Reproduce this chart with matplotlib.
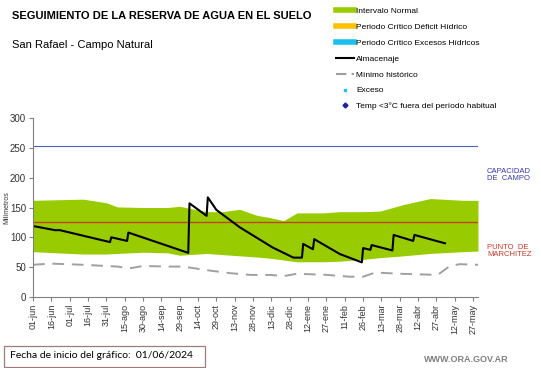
#!/usr/bin/env python3

import matplotlib
matplotlib.use('Agg')
import matplotlib.pyplot as plt
import numpy as np
from matplotlib.lines import Line2D
from matplotlib.patches import Rectangle

plt.rcParams['font.family'] = ['Liberation Sans', 'DejaVu Sans']

# Days since 01/06/2024
tick_days = list(range(0, 361, 15))
tick_labels = ['01-jun', '16-jun', '01-jul', '16-jul', '31-jul', '15-ago', '30-ago',
               '14-sep', '29-sep', '14-oct', '29-oct', '13-nov', '28-nov', '13-dic',
               '28-dic', '12-ene', '27-ene', '11-feb', '26-feb', '13-mar', '28-mar',
               '12-abr', '27-abr', '12-may', '27-may']

# Intervalo normal (banda verde)
band_days = [0, 20, 41, 60, 69, 90, 110, 120, 142, 155, 169, 183, 194, 205, 216,
             237, 251, 270, 284, 303, 325, 352, 364]
band_upper = [162, 163, 164, 158, 151, 150, 150, 152, 143, 143, 147, 137, 133, 128,
              141, 141, 143, 143, 144, 155, 165, 162, 162]
band_lower = [76, 74, 72, 72, 73, 75, 74, 70, 73, 71, 69, 67, 65, 62, 59, 59, 60,
              63, 66, 69, 73, 76, 77]

# Almacenaje
alm_days = [0, 18, 22, 63, 64, 77, 78, 127, 128, 142, 143, 150, 169, 196, 213, 220,
            221, 229, 230, 251, 269, 270, 276, 277, 294, 295, 311, 312, 337]
alm_vals = [119, 112, 112, 92, 100, 94, 108, 74, 157, 136, 167, 146, 117, 83, 66, 66,
            89, 80, 97, 72, 58, 82, 79, 87, 78, 104, 94, 104, 90]

# Minimo historico
min_days = [0, 14, 41, 69, 79, 90, 110, 123, 142, 161, 178, 194, 205, 216, 241, 259,
            270, 280, 300, 331, 341, 349, 364]
min_vals = [54, 56, 54, 51, 48, 52, 51, 51, 45, 40, 37, 37, 35, 39, 37, 34, 34, 41,
            39, 37, 52, 55, 54]

capacidad_campo = 253
punto_marchitez = 125

W, H = 541, 368


def main():
    '''Main function'''
    fig = plt.figure(figsize=(W / 100, H / 100), dpi=100)
    ax = fig.add_axes([33 / W, (H - 297) / H, (478 - 33) / W, (297 - 118) / H])

    green = '#99CC00'
    ax.fill_between(band_days, band_lower, band_upper, color=green, linewidth=0)
    ax.axhline(capacidad_campo, color='#4A63B8', lw=0.8)
    ax.axhline(punto_marchitez, color='#C0441C', lw=1.0)
    ax.plot(min_days, min_vals, color='#A0A0A0', lw=1.4, dashes=(6, 4))
    ax.plot(alm_days, alm_vals, color='black', lw=1.5)

    ax.set_xlim(0, 364)
    ax.set_ylim(0, 300)
    ax.set_yticks(np.arange(0, 301, 50))
    ax.set_xticks(tick_days)
    ax.set_xticklabels(tick_labels, rotation=90)
    ax.tick_params(axis='both', colors='#808080', labelcolor='#333333',
                   labelsize=6.5, length=3, width=0.8, pad=2)
    ax.tick_params(axis='y', labelsize=7)
    for s in ['top', 'right']:
        ax.spines[s].set_visible(False)
    for s in ['left', 'bottom']:
        ax.spines[s].set_color('#808080')
        ax.spines[s].set_linewidth(0.8)

    fig.text(7 / W, 1 - 208 / H, 'Milímetros', rotation=90, fontsize=5,
             ha='center', va='center', color='#333333')

    # Titles
    fig.text(12 / W, 1 - 16 / H, 'SEGUIMIENTO DE LA RESERVA DE AGUA EN EL SUELO',
             fontsize=8, fontweight='bold', va='center')
    fig.text(12 / W, 1 - 45 / H, 'San Rafael - Campo Natural', fontsize=8, va='center')

    # Legend
    custom_lines = [Line2D([0], [0], color=green, lw=4),
                    Line2D([0], [0], color='#FFC000', lw=4),
                    Line2D([0], [0], color='#1CC0F0', lw=4),
                    Line2D([0], [0], color='black', lw=1.5),
                    Line2D([0], [0], color='#A0A0A0', lw=1.5, dashes=(5, 2.5)),
                    Line2D([0], [0], color='#1CC0F0', marker='s', ms=2, lw=0),
                    Line2D([0], [0], color='#1F1F9F', marker='D', ms=2.5, lw=0)]
    labels = ['Intervalo Normal', 'Periodo Crítico Déficit Hídrico',
              'Periodo Crítico Excesos Hídricos', 'Almacenaje', 'Mínimo histórico',
              'Exceso', 'Temp <3°C fuera del período habitual']
    fig.legend(custom_lines, labels, loc='upper left', bbox_to_anchor=(336 / W, 1 - 7 / H),
               frameon=False, fontsize=6, handlelength=2.2, handletextpad=0.2,
               labelspacing=0.97, borderpad=0, borderaxespad=0)

    # Side labels
    fig.text(487 / W, 1 - 175 / H, 'CAPACIDAD\nDE  CAMPO', fontsize=5.5,
             color='#3838A8', va='center', linespacing=1.1)
    fig.text(487 / W, 1 - 251 / H, 'PUNTO  DE\nMARCHITEZ', fontsize=5.5,
             color='#C0392B', va='center', linespacing=1.1)

    # Footer
    fig.patches.append(Rectangle((4 / W, 1 - 367 / H), 201 / W, 21 / H,
                                 transform=fig.transFigure, fill=False,
                                 edgecolor='#9A7F7F', lw=0.9))
    fig.text(10 / W, 1 - 356 / H, 'Fecha de inicio del gráfico:  01/06/2024',
             fontsize=7.5, family=['Lato', 'DejaVu Sans'], va='center')
    fig.text(424 / W, 1 - 360 / H, 'WWW.ORA.GOV.AR', fontsize=6.5, fontweight='bold',
             color='#808080', va='center')

    fig.savefig('out.png', dpi=100)


if __name__ == '__main__':
    main()
